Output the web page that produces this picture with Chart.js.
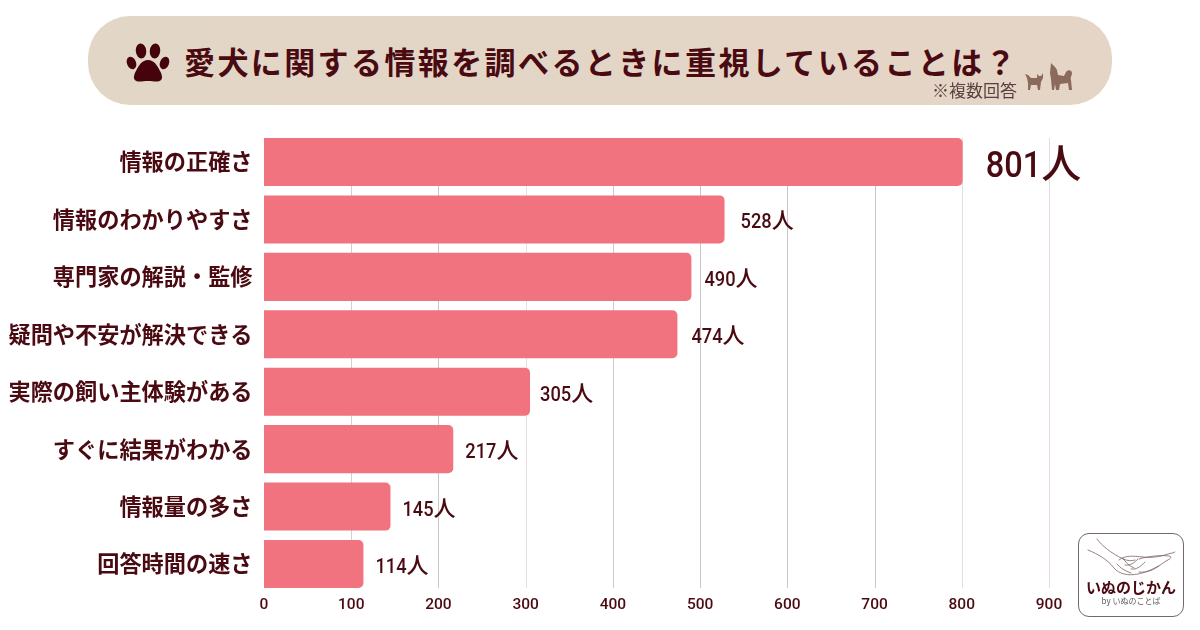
<!DOCTYPE html>
<html lang="ja">
<head>
<meta charset="utf-8">
<title>愛犬に関する情報を調べるときに重視していることは？</title>
<script src="https://cdn.jsdelivr.net/npm/chart.js@4"></script>
<style>
  html, body { margin: 0; padding: 0; background: #fff; }
  #stage { position: relative; width: 1200px; height: 630px; overflow: hidden; font-family: "Noto Sans CJK JP", sans-serif; }
  #chart { position: absolute; left: 0; top: 0; }
  #band { position: absolute; left: 88px; top: 16px; width: 1024px; height: 89px; border-radius: 42px;
          background: linear-gradient(90deg, #e2d6c7 0%, #e5d5c6 100%); }
  #heading { position: absolute; left: 184px; top: 38px; margin: 0; font-size: 31px; line-height: 46px; font-weight: 700;
             letter-spacing: 2.4px; color: #4a0a12; white-space: nowrap; }
  #note { position: absolute; left: 932px; top: 78px; font-size: 17px; line-height: 24px; color: #5a3f3f; white-space: nowrap; }
  #paw, #dogs, #logoArt { position: absolute; }
  #logo { position: absolute; left: 1078px; top: 533px; width: 104px; height: 82px; border: 1px solid #75686a; border-radius: 11px; background: #fff; }
  #logoName { position: absolute; left: 0; right: 0; top: 42px; text-align: center; font-size: 15px; line-height: 22px; font-weight: 700; color: #4a0a12; white-space: nowrap; }
  #logoBy { position: absolute; left: 0; right: 0; top: 61px; text-align: center; font-size: 8px; line-height: 12px; color: #5c5c5c; white-space: nowrap; }
</style>
</head>
<body>
<div id="stage">
  <canvas id="chart" width="1200" height="630"></canvas>
  <div id="band"></div>
  <svg id="paw" style="left:126px;top:43px" width="46" height="42" viewBox="0 0 46 42" fill="#45040c">
    <ellipse cx="15" cy="8" rx="5.200" ry="7.500" transform="rotate(-6 15 8)"/>
    <ellipse cx="29" cy="8" rx="5.200" ry="7.500" transform="rotate(6 29 8)"/>
    <ellipse cx="5.500" cy="20" rx="4.500" ry="6.500" transform="rotate(-22 5.500 20)"/>
    <ellipse cx="38.500" cy="20" rx="4.500" ry="6.500" transform="rotate(22 38.500 20)"/>
    <path d="M22 17c6 0 9 5 12 11 3 5 3 10-2 10.500-3 .4-6-.6-10-.6s-7 1-10 .6c-5-.5-5-5.500-2-10.500 3-6 6-11 12-11z"/>
  </svg>
  <h1 id="heading">愛犬に関する情報を調べるときに重視していることは？</h1>
  <div id="note">※複数回答</div>
  <svg id="dogs" style="left:1022px;top:60px" width="54" height="34" viewBox="0 0 54 34" fill="#8b6a5c">
    <path d="M3 14L6 15L9 18L15 18L15 14L17 16L19 16L21 13L21 18L19 22L18 30L16 30L15 25L9 25L8 30L6 30L6 23L5 18Z"/>
    <path d="M29 3L33 7L35 10L36 15L42 16L44 12C46 9 50 10 50 13C50 16 48 17 49 20L50 30L47 30L46 23L38 24L37 30L34 30L33 24L32 30L30 30L29 19L28 13Z"/>
  </svg>
  <div id="logo">
    <svg id="logoArt" style="left:8px;top:4px" width="90" height="42" viewBox="0 0 90 42" fill="none" stroke="#7d6266" stroke-width=".8" stroke-linecap="round">
      <path d="M10 1c5 7 14 14 26 20 5 2 8 2 12 1"/>
      <path d="M1 12c10 4 20 10 26 18 5 6 14 8 24 6 10-2 20-7 28-13 4-2 7-4 3-5-8-1-20 0-30 3"/>
      <path d="M32 22c6-5 14-4 24-3 8 1 16 0 25-3 3-1 6-1 7-2"/>
      <path d="M38 27c5 1 9-2 13-6M44 31c5 1 9-2 14-7M52 34c8 1 14-2 20-6"/>
      <path d="M30 26c3 4 8 7 14 9M36 20c2 4 6 8 11 10"/>
    </svg>
    <div id="logoName">いぬのじかん</div>
    <div id="logoBy">by いぬのことば</div>
  </div>
</div>
<script>
// 愛犬に関する情報を調べるときに重視していること(複数回答)
const categories = ["情報の正確さ", "情報のわかりやすさ", "専門家の解説・監修", "疑問や不安が解決できる", "実際の飼い主体験がある", "すぐに結果がわかる", "情報量の多さ", "回答時間の速さ"];
const respondents = [801, 528, 490, 474, 305, 217, 145, 114];
const axisTicks = [0, 100, 200, 300, 400, 500, 600, 700, 800, 900];
const labelGaps = [23, 16, 13, 14, 10, 12, 12, 12];

const ink = "#4a0a12";
const barFill = "#f1737f";
const gridTints = ["#d9d9d9", "#d4d0d0", "#c8c6c6", "#e9dfe3", "#cccaca", "#c8c6c6", "#c8c6c6", "#c8c6c6", "#e3e0dc", "#ead9de"];

// Vertical rules run only across the height of the bar stack, not the full plot box.
const barRules = {
  id: "barRules",
  beforeDatasetsDraw(chart) {
    const { ctx, scales: { x } } = chart;
    const meta = chart.getDatasetMeta(0).data;
    const top = meta[0].y - meta[0].height / 2;
    const last = meta[meta.length - 1];
    const bottom = last.y + last.height / 2;
    ctx.save();
    ctx.lineWidth = 1;
    axisTicks.forEach((t, i) => {
      if (t === 0) return;
      const px = Math.round(x.getPixelForValue(t)) + 0.5;
      ctx.strokeStyle = gridTints[i];
      ctx.beginPath();
      ctx.moveTo(px, top);
      ctx.lineTo(px, bottom);
      ctx.stroke();
    });
    ctx.restore();
  }
};

// Counts beside each bar; the leading bar gets a larger figure. Digits are set slightly condensed.
const countLabels = {
  id: "countLabels",
  afterDatasetsDraw(chart) {
    const { ctx } = chart;
    ctx.save();
    ctx.fillStyle = ink;
    ctx.textBaseline = "alphabetic";
    chart.getDatasetMeta(0).data.forEach((bar, i) => {
      const big = i === 0;
      const digitSize = big ? 37 : 21;
      const kanjiSize = big ? 40 : 22;
      const squeeze = big ? 0.88 : 0.87;
      const digits = String(respondents[i]);
      const base = bar.y + (big ? 15 : 9);
      let px = bar.x + labelGaps[i];
      ctx.font = `500 ${digitSize}px Roboto, sans-serif`;
      ctx.save();
      ctx.translate(px, base);
      ctx.scale(squeeze, 1);
      ctx.fillText(digits, 0, 0);
      ctx.restore();
      px += ctx.measureText(digits).width * squeeze;
      ctx.font = `500 ${kanjiSize}px "Noto Sans CJK JP", sans-serif`;
      ctx.fillText("人", px, base + (big ? 1 : 0));
    });
    ctx.restore();
  }
};

new Chart(document.getElementById("chart"), {
  type: "bar",
  data: {
    labels: categories,
    datasets: [{
      data: respondents,
      backgroundColor: barFill,
      borderWidth: 0,
      borderRadius: { topLeft: 0, bottomLeft: 0, topRight: 5, bottomRight: 5 },
      borderSkipped: false,
      categoryPercentage: 0.837,
      barPercentage: 1
    }]
  },
  options: {
    indexAxis: "y",
    responsive: false,
    animation: false,
    layout: { padding: { top: 133.3, right: 151, bottom: 0, left: 0 } },
    plugins: { legend: { display: false }, tooltip: { enabled: false }, title: { display: false } },
    scales: {
      x: {
        min: 0,
        max: 900,
        afterFit(scale) { scale.height = 37.3; },
        afterBuildTicks(scale) { scale.ticks = axisTicks.map(value => ({ value })); },
        grid: { display: false, drawTicks: false },
        border: { display: false },
        ticks: {
          color: ink,
          padding: 3,
          maxRotation: 0,
          font: { family: "Roboto, sans-serif", size: 15.5, weight: "500" }
        }
      },
      y: {
        afterFit(scale) { scale.width = 264; },
        grid: { display: false, drawTicks: false },
        border: { display: false },
        ticks: {
          color: ink,
          padding: 11.5,
          autoSkip: false,
          font: { family: '"Noto Sans CJK JP", sans-serif', size: 22.2, weight: "700" }
        }
      }
    }
  },
  plugins: [barRules, countLabels]
});
</script>
</body>
</html>
